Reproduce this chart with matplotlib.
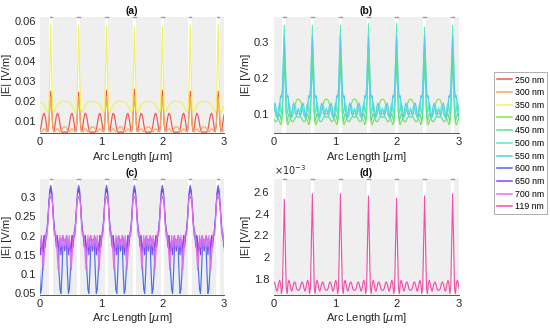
import numpy as np
import matplotlib
matplotlib.use("Agg")
import matplotlib.pyplot as plt
from matplotlib.ticker import FuncFormatter

plt.rcParams['font.family'] = ['Liberation Sans', 'DejaVu Sans']
plt.rcParams['mathtext.fontset'] = 'dejavusans'

# --- geometry of the periodic profile ---
period = 0.455        # um
first_peak = 0.175    # um
u_half = np.linspace(0, period / 2, 16)   # sample offsets from a peak to mid-gap

# half-period profiles (peak -> mid-gap)
# (a)
a_250 = [0.025, 0.018, 0.008, 0.005, 0.006, 0.0095, 0.0125, 0.014, 0.0135, 0.0115, 0.0085, 0.006, 0.0048, 0.0045, 0.0046, 0.0048]
a_300 = [0.022, 0.017, 0.009, 0.0055, 0.0048, 0.0052, 0.006, 0.0063, 0.006, 0.0053, 0.0048, 0.0052, 0.006, 0.0068, 0.0072, 0.0073]
a_350 = [0.058, 0.035, 0.016, 0.0145, 0.015, 0.016, 0.017, 0.018, 0.0186, 0.019, 0.0193, 0.0196, 0.0198, 0.0199, 0.02, 0.02]
# (b)
b_400 = [0.28, 0.2, 0.11, 0.075, 0.07, 0.078, 0.085, 0.09, 0.092, 0.1, 0.11, 0.12, 0.13, 0.137, 0.14, 0.14]
b_450 = [0.245, 0.18, 0.1, 0.08, 0.09, 0.1, 0.095, 0.085, 0.08, 0.078, 0.08, 0.085, 0.09, 0.093, 0.092, 0.09]
b_500 = [0.345, 0.25, 0.14, 0.1, 0.11, 0.13, 0.12, 0.1, 0.09, 0.095, 0.11, 0.125, 0.12, 0.105, 0.1, 0.1]
b_550 = [0.315, 0.25, 0.17, 0.145, 0.15, 0.12, 0.1, 0.09, 0.1, 0.12, 0.13, 0.12, 0.1, 0.095, 0.105, 0.115]
# (c)
c_600 = [0.33, 0.318, 0.285, 0.245, 0.21, 0.2, 0.185, 0.2, 0.16, 0.1, 0.06, 0.05, 0.1, 0.17, 0.19, 0.17]
c_650 = [0.32, 0.31, 0.28, 0.24, 0.215, 0.2, 0.17, 0.2, 0.18, 0.16, 0.19, 0.15, 0.19, 0.2, 0.18, 0.16]
c_700 = [0.295, 0.305, 0.28, 0.235, 0.2, 0.21, 0.19, 0.15, 0.11, 0.15, 0.2, 0.17, 0.19, 0.2, 0.17, 0.19]
# (d)  x 1e-3
d_119 = [2.57, 2.15, 1.72, 1.67, 1.76, 1.79, 1.76, 1.71, 1.69, 1.72, 1.76, 1.775, 1.76, 1.72, 1.70, 1.70]

# peak value in each of the 7 periods
pk_250 = [0.025, 0.0245, 0.0255, 0.026, 0.0255, 0.025, 0.025]
pk_350 = [0.0585, 0.058, 0.0575, 0.057, 0.0575, 0.058, 0.0585]
pk_500 = [0.345, 0.345, 0.345, 0.35, 0.35, 0.34, 0.345]
pk_119 = [2.53, 2.58, 2.58, 2.56, 2.54, 2.56, 2.58]

labels = ['250 nm', '300 nm', '350 nm', '400 nm', '450 nm', '500 nm',
          '550 nm', '600 nm', '650 nm', '700 nm', '119 nm']
colors = ['#f0564e', '#f4a85e', '#f2f25a', '#7ee84a', '#5ee08c', '#4fefc4',
          '#5ccaf0', '#4a6ef0', '#9040f0', '#e070f0', '#f050a8']


def build(half_vals, peaks=None, scale=1.0):
    half = np.asarray(half_vals, dtype=float)
    u = np.concatenate([-u_half[::-1], u_half[1:]])[:-1]
    v = np.concatenate([half[::-1], half[1:]])[:-1]
    xs, ys = [], []
    for k in range(7):
        vv = v.copy()
        if peaks is not None:
            vv[15] = peaks[k]
        xs.append(first_peak + k * period + u)
        ys.append(vv)
    return np.concatenate(xs), np.concatenate(ys) * scale


fig = plt.figure(figsize=(5.5, 3.32), dpi=100)
W, H = 550.0, 332.0


def make_ax(l, r, t, b):
    return fig.add_axes([l / W, 1 - b / H, (r - l) / W, (b - t) / H])


ax_a = make_ax(40, 224, 17, 133)
ax_b = make_ax(273.5, 458.5, 17, 133)
ax_c = make_ax(40, 224, 178.5, 294.5)
ax_d = make_ax(273.5, 458.5, 178.5, 294.5)

panels = [
    (ax_a, '(a)', [(a_250, pk_250, 0), (a_300, None, 1), (a_350, pk_350, 2)], (0.0042, 0.062), [0.01, 0.02, 0.03, 0.04, 0.05, 0.06], 1.0),
    (ax_b, '(b)', [(b_400, None, 3), (b_450, None, 4), (b_500, pk_500, 5), (b_550, None, 6)], (0.047, 0.368), [0.1, 0.2, 0.3], 1.0),
    (ax_c, '(c)', [(c_600, None, 7), (c_650, None, 8), (c_700, None, 9)], (0.047, 0.348), [0.05, 0.1, 0.15, 0.2, 0.25, 0.3], 1.0),
    (ax_d, '(d)', [(d_119, pk_119, 10)], (1.66e-3, 2.72e-3), [1.8e-3, 2.0e-3, 2.2e-3, 2.4e-3, 2.6e-3], 1e-3),
]

handles = [None] * len(labels)
for ax, title, series, ylim, yticks, sc in panels:
    ax.set_facecolor('#efefef')
    ax.set_xlim(0, 3)
    ax.set_ylim(*ylim)
    for k in range(7):
        c = first_peak + k * period
        ax.axvspan(c - 0.03, c + 0.03, color='white', lw=0, zorder=0.5)
        ax.plot([c - 0.02, c + 0.02], [ylim[1], ylim[1]], color='#9a9a9a', lw=1.0,
                clip_on=False, zorder=1)
    for vals, pk, idx in series:
        x, y = build(vals, pk, sc)
        h, = ax.plot(x, y, color=colors[idx], lw=0.85, zorder=2)
        handles[idx] = h
    for s in ['top', 'right', 'left']:
        ax.spines[s].set_visible(False)
    ax.spines['bottom'].set_color('#555555')
    ax.spines['bottom'].set_linewidth(0.7)
    ax.set_xticks([0, 1, 2, 3])
    ax.set_yticks(yticks)
    ax.tick_params(length=0, labelsize=8, colors='#262626', pad=3)
    if sc == 1.0:
        ax.yaxis.set_major_formatter(FuncFormatter(lambda v, p: '%g' % round(v, 6)))
    else:
        ax.yaxis.set_major_formatter(FuncFormatter(lambda v, p: '%g' % round(v * 1e3, 6)))
        ax.text(0.0, 1.01, r'$\times10^{-3}$', transform=ax.transAxes, fontsize=7,
                color='#262626', ha='left', va='bottom')
    ax.set_title(title, fontsize=7.5, fontweight='bold', color='#111111', pad=2)
    ax.set_xlabel(r'Arc Length [$\mu$m]', fontsize=8, color='#262626', labelpad=2)
    ax.set_ylabel('|E| [V/m]', fontsize=8, color='#262626', labelpad=2)

leg = fig.legend(handles, labels, loc='center', bbox_to_anchor=(520.5 / W, 1 - 143.4 / H),
                 fontsize=6.3, frameon=True, fancybox=False, handlelength=1.7,
                 handletextpad=0.3, labelspacing=0.42, borderpad=0.35, borderaxespad=0)
leg.get_frame().set_edgecolor('#8a8a8a')
leg.get_frame().set_linewidth(0.6)
for ln in leg.get_lines():
    ln.set_linewidth(1.1)

fig.savefig('out.png', dpi=100)
